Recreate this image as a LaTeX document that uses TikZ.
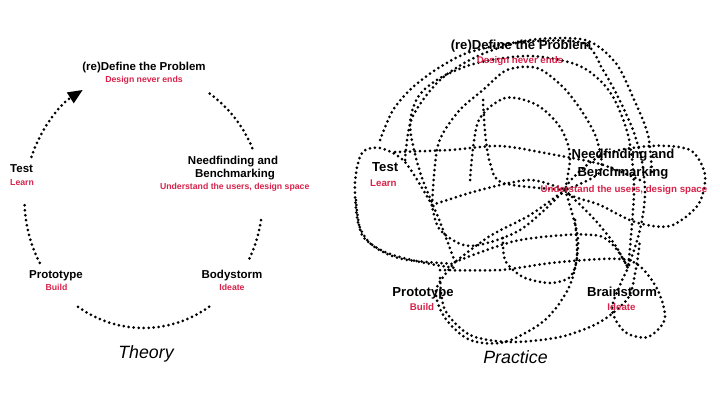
\documentclass[tikz,border=0pt]{standalone}
\usepackage{fontspec}
\setmainfont{Liberation Sans}
\usetikzlibrary{arrows.meta}
\definecolor{hintred}{RGB}{215,35,75}

\tikzset{
  dots/.style={line width=3pt,line cap=round,dash pattern=on 0pt off 5pt},
  stageL/.style={font=\fontsize{11.5}{12}\selectfont\bfseries,inner sep=0pt,anchor=base},
  hintL/.style={font=\fontsize{8.7}{9}\selectfont\bfseries,text=hintred,inner sep=0pt,anchor=base},
  stageR/.style={font=\fontsize{13.1}{14}\selectfont\bfseries,inner sep=0pt,anchor=base},
  hintR/.style={font=\fontsize{9.7}{10}\selectfont\bfseries,text=hintred,inner sep=0pt,anchor=base},
  caption/.style={font=\fontsize{17.8}{18}\selectfont\itshape,inner sep=0pt,anchor=base}
}

\begin{document}
\begin{tikzpicture}[x=1pt,y=-1pt]
\useasboundingbox[fill=white] (0,0) rectangle (720,405);
\coordinate (cyc) at (143.5,200);
\draw[dots] ([shift={(-56.2:119 and 128)}]cyc) arc[start angle=-56.2,end angle=-21.8,x radius=119,y radius=128];
\draw[dots] ([shift={(9.1:119 and 128)}]cyc) arc[start angle=9.1,end angle=29.1,x radius=119,y radius=128];
\draw[dots] ([shift={(56.5:119 and 128)}]cyc) arc[start angle=56.5,end angle=124.3,x radius=119,y radius=128];
\draw[dots] ([shift={(150.6:119 and 128)}]cyc) arc[start angle=150.6,end angle=178.7,x radius=119,y radius=128];
\draw[dots,-{Triangle[length=15pt,width=12pt]}] ([shift={(199.7:119 and 128)}]cyc) arc[start angle=199.7,end angle=239.4,x radius=119,y radius=128];
\node[stageL] (defL) at (144,70) {(re)Define the Problem};
\node[hintL] (defLn) at (144,82) {Design never ends};
\node[stageL,anchor=base west] (testL) at (10,172.7) {Test};
\node[hintL,anchor=base west] (testLn) at (10,185.7) {Learn};
\node[stageL] (needL) at (233,164) {Needfinding and};
\node[stageL] (needL2) at (235,177.3) {Benchmarking};
\node[hintL] (needLn) at (234.7,189) {Understand the users, design space};
\node[stageL] (protoL) at (56,278.7) {Prototype};
\node[hintL] (protoLn) at (56.5,290) {Build};
\node[stageL] (bodyL) at (232,278.7) {Bodystorm};
\node[hintL] (bodyLn) at (232,290) {Ideate};
\node[caption] (theory) at (146,358.3) {Theory};
\draw[dots] plot[smooth] coordinates {(380,140) (393,110) (413,87) (440,67) (470,52) (520,42) (583,43) (603,70) (618,97) (633,130) (642,162) (645,195) (640,230) (628,268)};
\draw[dots] plot[smooth] coordinates {(405,160) (412,118) (440,80) (480,55) (530,40) (585,40) (615,62) (632,95) (648,135) (652,175)};
\draw[dots] plot[smooth] coordinates {(432,205) (405,162) (380,148) (362,153) (355,182) (358,222) (372,245) (402,259) (455,264)};
\draw[dots] plot[smooth] coordinates {(455,262) (440,222) (420,172) (410,126) (418,97) (440,78) (477,63) (530,56) (580,66) (610,92) (628,135) (634,190) (628,268)};
\draw[dots] plot[smooth] coordinates {(432,205) (438,145) (458,112) (483,90) (507,70) (537,68) (563,87) (583,113) (597,140) (600,172) (565,190)};
\draw[dots] plot[smooth] coordinates {(470,180) (478,122) (505,98) (537,105) (560,127) (570,155) (565,190)};
\draw[dots] plot[smooth] coordinates {(483,100) (485,132) (490,163) (503,183) (565,190)};
\draw[dots] plot[smooth cycle] coordinates {(565,190) (600,156) (650,146) (690,150) (705,175) (698,205) (670,226) (635,222) (600,205)};
\draw[dots] plot[smooth] coordinates {(395,152) (450,150) (500,146) (550,154) (600,164) (640,180)};
\draw[dots] plot[smooth] coordinates {(432,205) (480,190) (530,180) (565,190)};
\draw[dots] plot[smooth] coordinates {(565,190) (530,215) (490,236) (455,262)};
\draw[dots] plot[smooth] coordinates {(565,190) (520,230) (470,246) (440,230) (432,205)};
\draw[dots] plot[smooth] coordinates {(440,270) (500,270) (560,262) (628,260) (655,285) (665,318) (648,337) (625,332) (612,310) (620,285) (628,268)};
\draw[dots] plot[smooth] coordinates {(440,278) (445,310) (470,335) (510,342) (560,337) (600,322) (628,298) (636,268) (640,240)};
\draw[dots] plot[smooth] coordinates {(565,190) (595,220) (615,245) (628,268)};
\draw[dots] plot[smooth] coordinates {(565,190) (578,240) (570,285) (545,320) (505,342) (470,340) (445,318) (436,290) (455,262)};
\draw[dots] plot[smooth] coordinates {(575,220) (577,257) (570,277) (550,283) (523,277) (505,260) (503,233)};
\draw[dots] plot[smooth] coordinates {(356,200) (362,235) (385,252) (420,262) (455,268)};
\draw[dots] plot[smooth] coordinates {(455,262) (520,240) (600,236) (628,268)};
\node[stageR] (defR) at (521,49) {(re)Define the Problem};
\node[hintR] (defRn) at (520,63) {Design never ends};
\node[stageR,anchor=base west] (testR) at (372,171.7) {Test};
\node[hintR,anchor=base west] (testRn) at (370,186) {Learn};
\node[stageR] (needR) at (623,158.3) {Needfinding and};
\node[stageR] (needR2) at (623,176.7) {Benchmarking};
\node[hintR] (needRn) at (624,192.7) {Understand the users, design space};
\node[stageR] (protoR) at (423,296.7) {Prototype};
\node[hintR] (protoRn) at (422,310.7) {Build};
\node[stageR] (brainR) at (622,296.7) {Brainstorm};
\node[hintR] (brainRn) at (621.5,310.7) {Ideate};
\node[caption] (practice) at (515.5,363) {Practice};
\end{tikzpicture}
\end{document}
